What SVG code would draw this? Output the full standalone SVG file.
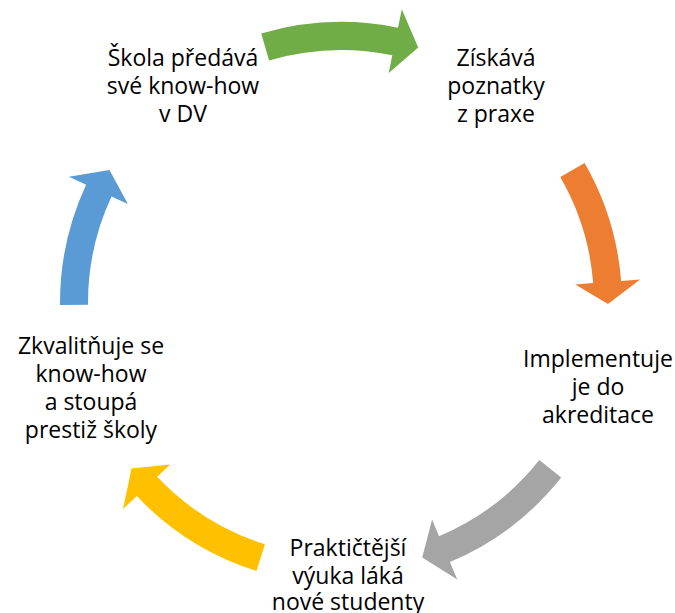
<svg xmlns="http://www.w3.org/2000/svg" width="675" height="613" viewBox="0 0 675 613">
  <style>
    text { font-family: "Open Sans", "Liberation Sans", sans-serif; font-size: 23px; fill: #000; text-anchor: middle; }
  </style>
  <rect width="675" height="613" fill="#fff"/>
  <g id="connectors">
    <path id="arrow-green" fill="#70AD47" d="M 261.2 33.6 A 281 281 0 0 1 398.0 27.8 L 401.8 9.2 L 418.2 47.4 L 388.7 72.9 L 392.3 55.3 A 253 253 0 0 0 269.1 60.4 Z"/>
    <path id="arrow-orange" fill="#ED7D31" d="M 584.6 162.9 A 281 281 0 0 1 621.1 280.9 L 640.1 279.4 L 608 303.9 L 575.3 284.6 L 593.2 283.1 A 253 253 0 0 0 560.3 176.9 Z"/>
    <path id="arrow-gray" fill="#A5A5A5" d="M 561.2 477.5 A 281 281 0 0 1 449.9 562.1 L 457.3 579.6 L 422.2 557.4 L 432.1 519.6 L 439.0 536.2 A 253 253 0 0 0 539.3 460.1 Z"/>
    <path id="arrow-yellow" fill="#FFC000" d="M 256.5 571.0 A 281 281 0 0 1 136.8 496.1 L 123.0 509.1 L 131.5 468.5 L 170.2 464.5 L 157.2 476.8 A 253 253 0 0 0 264.9 544.3 Z"/>
    <path id="arrow-blue" fill="#5B9BD5" d="M 60 305 A 281 281 0 0 1 86.1 184.7 L 68.9 176.7 L 109.5 169.9 L 127.9 204.1 L 111.5 196.5 A 253 253 0 0 0 88 304.8 Z"/>
  </g>
  <g id="node-skola">
    <text x="183" y="66">Škola předává</text>
    <text x="183" y="94">své know-how</text>
    <text x="183" y="122">v DV</text>
  </g>
  <g id="node-ziskava">
    <text x="496" y="66">Získává</text>
    <text x="496" y="94">poznatky</text>
    <text x="496" y="122">z praxe</text>
  </g>
  <g id="node-implementuje">
    <text x="598" y="367">Implementuje</text>
    <text x="598" y="395">je do</text>
    <text x="598" y="423">akreditace</text>
  </g>
  <g id="node-prakticka">
    <text x="348" y="556">Praktičtější</text>
    <text x="348" y="584">výuka láká</text>
    <text x="348" y="610">nové studenty</text>
  </g>
  <g id="node-zkvalitnuje">
    <text x="91" y="354">Zkvalitňuje se</text>
    <text x="91" y="382">know-how</text>
    <text x="91" y="410">a stoupá</text>
    <text x="91" y="438">prestiž školy</text>
  </g>
</svg>
